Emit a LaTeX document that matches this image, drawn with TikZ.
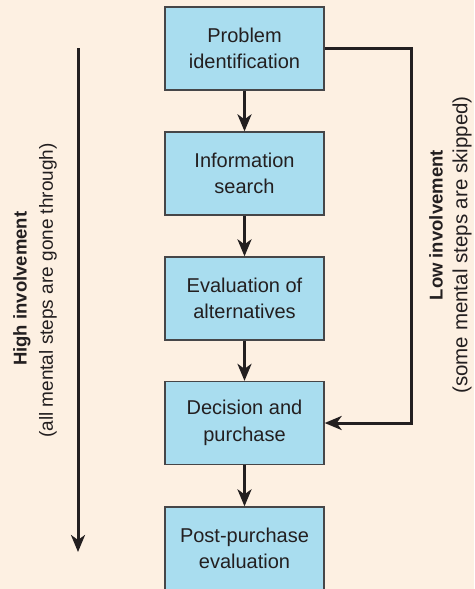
\documentclass[tikz,border=0pt]{standalone}
\usepackage{fontspec}
\setmainfont{Liberation Sans}
\usetikzlibrary{arrows.meta}
\definecolor{bgc}{RGB}{253,240,226}
\definecolor{boxc}{RGB}{169,221,239}
\definecolor{edgec}{RGB}{70,70,72}
\definecolor{linec}{RGB}{35,31,32}
\tikzset{
  stepbox/.style={draw=edgec, line width=1.3pt, fill=boxc, minimum width=159pt, minimum height=83pt, inner sep=0pt, align=center, text=linec, font=\fontsize{20}{26.5}\selectfont},
  conn/.style={draw=linec, line width=3pt, -{Stealth[length=17pt,width=14pt,inset=5pt]}},
  boldlbl/.style={rotate=90, text=linec, inner sep=0pt, font=\fontsize{18.5}{22}\selectfont\bfseries},
  reglbl/.style={rotate=90, text=linec, inner sep=0pt, font=\fontsize{19.5}{22}\selectfont}
}
\begin{document}
\begin{tikzpicture}[x=1pt,y=-1pt]
\fill[bgc] (0,0) rectangle (474,589);
\useasboundingbox (0,0) rectangle (474,589);
\clip (0,0) rectangle (474,589);
\node[stepbox] (b1) at (244.5,48.5) {Problem\\identification};
\node[stepbox] (b2) at (244.5,173.5) {Information\\search};
\node[stepbox] (b3) at (244.5,298.5) {Evaluation of\\alternatives};
\node[stepbox] (b4) at (244.5,423) {Decision and\\purchase};
\node[stepbox] (b5) at (244.5,548.5) {Post-purchase\\evaluation};
\draw[conn] (b1) -- (b2);
\draw[conn] (b2) -- (b3);
\draw[conn] (b3) -- (b4);
\draw[conn] (b4) -- (b5);
\coordinate (r) at (411,48.5);
\draw[conn] (b1.east) -- (r) |- (b4.east);
\coordinate (lt) at (78,48);
\coordinate (lb) at (78,552);
\draw[conn] (lt) -- (lb);
\node[boldlbl, anchor=west] (hi) at (22,366) {High involvement};
\node[reglbl, anchor=east, font=\fontsize{19}{22}\selectfont] (hs) at (48,143) {(all mental steps are gone through)};
\node[boldlbl, anchor=east] (lo) at (436,150) {Low involvement};
\node[reglbl, anchor=east, font=\fontsize{20.5}{22}\selectfont] (ls) at (462,96) {(some mental steps are skipped)};
\end{tikzpicture}
\end{document}
